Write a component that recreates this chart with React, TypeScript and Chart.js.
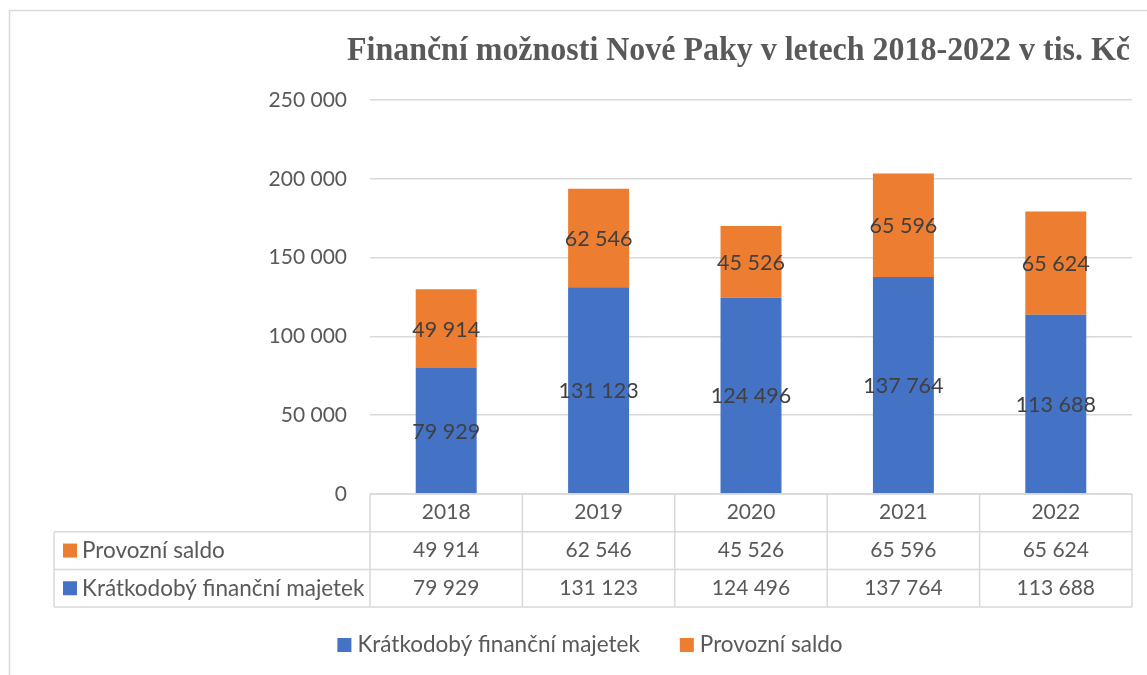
import React, { useEffect, useRef } from "react";
import { Chart, registerables } from "chart.js";

Chart.register(...registerables);

const TITLE = "Finanční možnosti Nové Paky v letech 2018-2022 v tis. Kč";
const categories = ["2018", "2019", "2020", "2021", "2022"];
const shortTermAssets = [79929, 131123, 124496, 137764, 113688];
const operatingBalance = [49914, 62546, 45526, 65596, 65624];
const seriesNames = ["Krátkodobý finanční majetek", "Provozní saldo"];
const seriesColors = ["#4472C4", "#ED7D31"];
const yMax = 250000;
const yStep = 50000;

const SANS = "Lato, 'Open Sans', sans-serif";
const TEXT_GRAY = "#595959";
const LINE_GRAY = "#d9d9d9";

function fmt(n: number): string {
  return String(n).replace(/\B(?=(\d{3})+(?!\d))/g, " ");
}

const decorPlugin = {
  id: "decor",
  afterDraw(chart: any) {
    const ctx: CanvasRenderingContext2D = chart.ctx;
    const area = chart.chartArea;
    const xScale = chart.scales.x;
    const n = chart.data.labels.length;
    const colW = (area.right - area.left) / n;

    ctx.save();

    // outer chart border
    ctx.strokeStyle = LINE_GRAY;
    ctx.lineWidth = 1.5;
    ctx.beginPath();
    ctx.moveTo(9.5, chart.height + 5);
    ctx.lineTo(9.5, 10.5);
    ctx.lineTo(chart.width + 5, 10.5);
    ctx.stroke();

    // title (condensed serif)
    ctx.font = "bold 33px 'Liberation Serif', 'Times New Roman', serif";
    ctx.fillStyle = TEXT_GRAY;
    ctx.textBaseline = "alphabetic";
    ctx.textAlign = "center";
    const tw = ctx.measureText(TITLE).width;
    const sx = 783 / tw;
    ctx.save();
    ctx.translate(738.5, 60);
    ctx.scale(sx, 1);
    ctx.fillText(TITLE, 0, 0);
    ctx.restore();

    // data labels inside segments
    ctx.font = `21.5px ${SANS}`;
    ctx.fillStyle = "#404040";
    ctx.textAlign = "center";
    ctx.textBaseline = "middle";
    chart.data.datasets.forEach((ds: any, di: number) => {
      const meta = chart.getDatasetMeta(di);
      meta.data.forEach((bar: any, i: number) => {
        const { x, y, base } = bar.getProps(["x", "y", "base"], true);
        ctx.fillText(fmt(ds.data[i]), x, (y + base) / 2 + 1);
      });
    });

    // data table
    const rowH = 37.7;
    const top = area.bottom;
    const tableLeft = 54;
    const rows = [top, top + rowH, top + 2 * rowH, top + 3 * rowH];
    ctx.strokeStyle = LINE_GRAY;
    ctx.lineWidth = 1.5;
    ctx.beginPath();
    ctx.moveTo(area.left, rows[0]);
    ctx.lineTo(area.right, rows[0]);
    for (let r = 1; r < 4; r++) {
      ctx.moveTo(tableLeft, rows[r]);
      ctx.lineTo(area.right, rows[r]);
    }
    ctx.moveTo(tableLeft, rows[1]);
    ctx.lineTo(tableLeft, rows[3]);
    for (let c = 0; c <= n; c++) {
      const xx = area.left + c * colW;
      ctx.moveTo(xx, rows[0]);
      ctx.lineTo(xx, rows[3]);
    }
    ctx.stroke();

    const numFont = `21px ${SANS}`;
    const labelFont = `22.5px ${SANS}`;
    ctx.font = numFont;
    ctx.fillStyle = TEXT_GRAY;
    ctx.textBaseline = "middle";
    ctx.textAlign = "center";
    chart.data.labels.forEach((lab: string, i: number) => {
      const cx = xScale.getPixelForValue(i);
      ctx.fillText(lab, cx, rows[0] + rowH / 2 - 1);
    });
    // rows: top-most dataset first
    const order = [1, 0];
    order.forEach((di, r) => {
      const ds = chart.data.datasets[di];
      const ry = rows[r + 1] + rowH / 2;
      ctx.fillStyle = ds.backgroundColor;
      ctx.fillRect(63, ry - 7, 14, 14);
      ctx.fillStyle = TEXT_GRAY;
      ctx.textAlign = "left";
      ctx.font = labelFont;
      ctx.fillText(ds.label, 82, ry);
      ctx.textAlign = "center";
      ctx.font = numFont;
      ds.data.forEach((v: number, i: number) => {
        ctx.fillText(fmt(v), xScale.getPixelForValue(i), ry);
      });
    });

    // legend
    ctx.font = labelFont;
    const ly = 645;
    const sq = 14;
    const gap = 6;
    const itemGap = 40;
    const widths = chart.data.datasets.map((ds: any) => ctx.measureText(ds.label).width);
    const total = widths.reduce((a: number, w: number) => a + sq + gap + w, 0) + itemGap;
    let lx = 590 - total / 2;
    ctx.textAlign = "left";
    chart.data.datasets.forEach((ds: any, di: number) => {
      ctx.fillStyle = ds.backgroundColor;
      ctx.fillRect(lx, ly - sq / 2, sq, sq);
      ctx.fillStyle = TEXT_GRAY;
      ctx.fillText(ds.label, lx + sq + gap, ly);
      lx += sq + gap + widths[di] + itemGap;
    });

    ctx.restore();
  },
};

export default function App() {
  const ref = useRef<HTMLCanvasElement | null>(null);

  useEffect(() => {
    if (!ref.current) return;
    const chart = new Chart(ref.current, {
      type: "bar",
      data: {
        labels: categories,
        datasets: [
          {
            label: seriesNames[0],
            data: shortTermAssets,
            backgroundColor: seriesColors[0],
            borderWidth: 0,
          },
          {
            label: seriesNames[1],
            data: operatingBalance,
            backgroundColor: seriesColors[1],
            borderWidth: 0,
          },
        ],
      },
      options: {
        responsive: false,
        animation: false,
        events: [],
        layout: { padding: { left: 0, right: 15, top: 100, bottom: 181 } },
        datasets: { bar: { barPercentage: 0.4, categoryPercentage: 1.0 } },
        scales: {
          x: { stacked: true, display: false },
          y: {
            stacked: true,
            min: 0,
            max: yMax,
            ticks: {
              stepSize: yStep,
              padding: 23,
              color: TEXT_GRAY,
              font: { family: SANS, size: 21 },
              callback: (v: any) => fmt(Number(v)),
            },
            grid: { color: LINE_GRAY, lineWidth: 1.5, drawTicks: false },
            border: { display: false },
            afterFit: (scale: any) => {
              scale.width = 370;
            },
          },
        },
        plugins: {
          legend: { display: false },
          title: { display: false },
          tooltip: { enabled: false },
        },
      },
      plugins: [decorPlugin],
    });
    return () => chart.destroy();
  }, []);

  return (
    <div style={{ position: "fixed", left: 0, top: 0, width: 1147, height: 675, background: "#fff" }}>
      <canvas ref={ref} width={1147} height={675} style={{ width: 1147, height: 675, display: "block" }} />
    </div>
  );
}
